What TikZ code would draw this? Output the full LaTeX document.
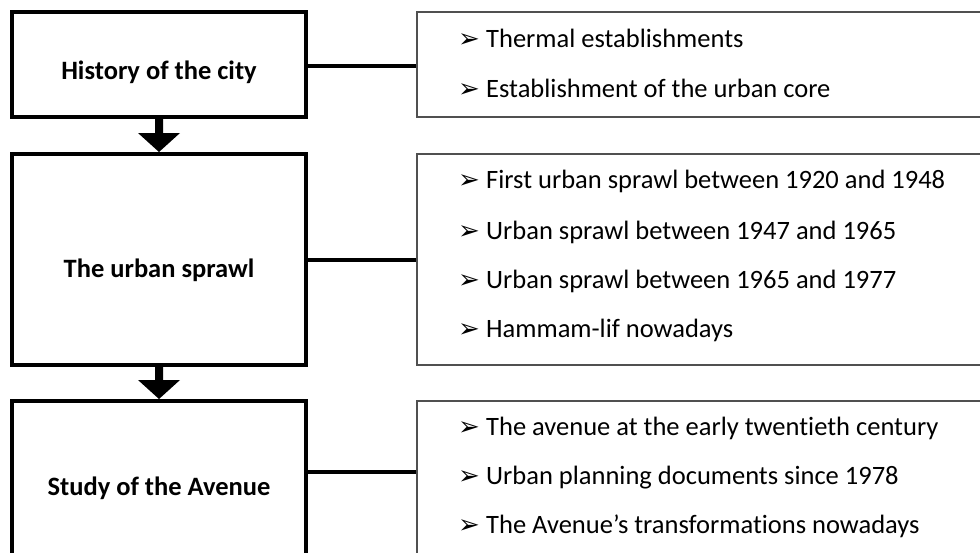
\documentclass[tikz,border=0pt]{standalone}
\usepackage{fontspec}
\setmainfont{Carlito}[Ligatures=NoCommon]
\newfontfamily\dingfont{DejaVu Sans}
\usetikzlibrary{calc}
\definecolor{rline}{HTML}{505050}
\newcommand{\bul}{\makebox[28pt][l]{\raisebox{0pt}{\dingfont\fontsize{26}{26}\selectfont ➢}}}
\tikzset{
  lbox/.style={draw=black, line width=4pt, rectangle, inner sep=0pt, fill=white},
  rbox/.style={draw=rline, line width=1.3pt, rectangle, inner sep=0pt, fill=white},
  ltext/.style={anchor=base, inner sep=0pt, font=\fontsize{26.5}{30}\selectfont\bfseries},
  item/.style={anchor=base west, inner sep=0pt, font=\fontsize{26.5}{30}\selectfont},
  conn/.style={draw=black, line width=3.5pt},
  flow/.style={fill=black}
}
\begin{document}
\begin{tikzpicture}[x=1pt,y=-1pt]
\useasboundingbox (0,0) rectangle (980,552);
\clip (0,0) rectangle (980,552);
% left boxes
\node[lbox, minimum width=294pt, minimum height=105pt] (b1) at (159,64.5) {};
\node[lbox, minimum width=294pt, minimum height=211pt] (b2) at (159,259.5) {};
\node[lbox, minimum width=294pt, minimum height=199pt] (b3) at (159,500.5) {};
% right boxes
\node[rbox, minimum width=573pt, minimum height=105pt] (r1) at (703.5,64.5) {};
\node[rbox, minimum width=573pt, minimum height=211pt] (r2) at (703.5,259.5) {};
\node[rbox, minimum width=573pt, minimum height=199pt] (r3) at (703.5,500.5) {};
% left texts
\node[ltext] (t1) at (159,79) {History of the city};
\node[ltext] (t2) at (159,277) {The urban sprawl};
\node[ltext] (t3) at (159,495) {Study of the Avenue};
% connectors
\coordinate (k1) at (0,66);
\coordinate (k2) at (0,260);
\coordinate (k3) at (0,472);
\draw[conn] (b1.east |- k1) -- (r1.west |- k1);
\draw[conn] (b2.east |- k2) -- (r2.west |- k2);
\draw[conn] (b3.east |- k3) -- (r3.west |- k3);
% flow arrows
\fill[flow] ($(b1.south)+(-4,0)$) -- ($(b1.south)+(4,0)$) -- ($(b2.north)+(4,-19)$)
  -- ($(b2.north)+(21,-19)$) -- (b2.north) -- ($(b2.north)+(-21,-19)$) -- ($(b2.north)+(-4,-19)$) -- cycle;
\fill[flow] ($(b2.south)+(-4,0)$) -- ($(b2.south)+(4,0)$) -- ($(b3.north)+(4,-19)$)
  -- ($(b3.north)+(21,-19)$) -- (b3.north) -- ($(b3.north)+(-21,-19)$) -- ($(b3.north)+(-4,-19)$) -- cycle;
% items
\node[item] (i11) at (458,47) {\bul Thermal establishments};
\node[item] (i12) at (458,97) {\bul Establishment of the urban core};
\node[item] (i21) at (458,188) {\bul First urban sprawl between 1920 and 1948};
\node[item] (i22) at (458,239) {\bul Urban sprawl between 1947 and 1965};
\node[item] (i23) at (458,288) {\bul Urban sprawl between 1965 and 1977};
\node[item] (i24) at (458,337) {\bul Hammam-lif nowadays};
\node[item] (i31) at (458,435) {\bul The avenue at the early twentieth century};
\node[item] (i32) at (458,484) {\bul Urban planning documents since 1978};
\node[item] (i33) at (458,533) {\bul The Avenue’s transformations nowadays};
\end{tikzpicture}
\end{document}
